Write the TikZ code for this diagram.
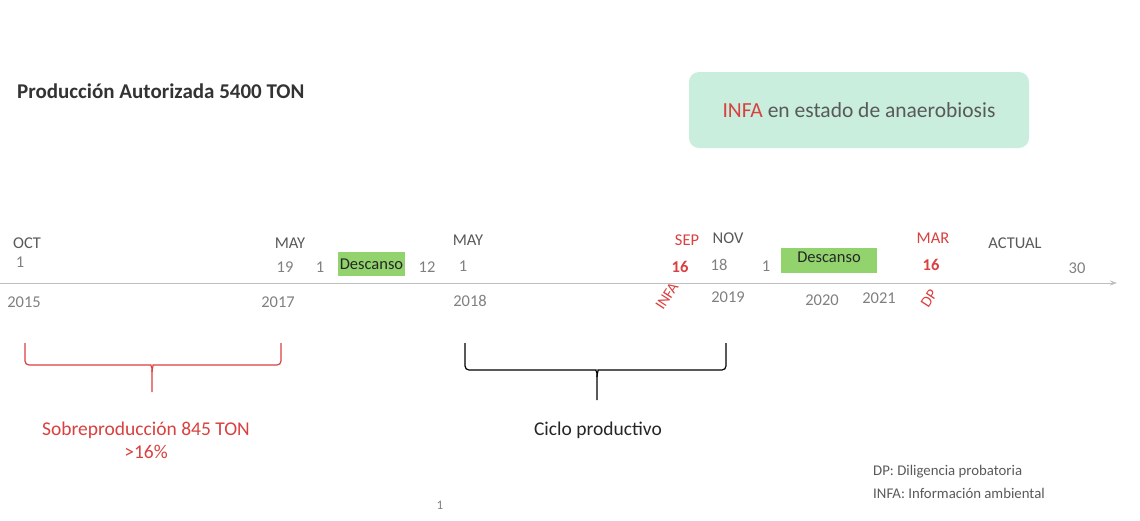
\documentclass[tikz,border=0pt]{standalone}
\usepackage{fontspec}
\setmainfont{Carlito}
\usetikzlibrary{arrows.meta}
\definecolor{redtx}{HTML}{D9403F}
\definecolor{graytx}{HTML}{808080}
\definecolor{darktx}{HTML}{595959}
\definecolor{mint}{HTML}{C9EEDD}
\definecolor{restg}{HTML}{92D36E}
\definecolor{axisc}{HTML}{BFBFBF}
\tikzset{
  lbl/.style={inner sep=0pt, font=\fontsize{16.5}{18}\selectfont, text=graytx},
  mon/.style={lbl, text=darktx},
  redm/.style={lbl, text=redtx},
  redd/.style={lbl, text=redtx, font=\fontsize{16.5}{18}\selectfont\bfseries},
  restbox/.style={fill=restg, inner sep=0pt, font=\fontsize{16.5}{18}\selectfont, text=black!85},
  bracel/.style={line width=1.2pt, rounded corners=4pt},
}
\begin{document}
\begin{tikzpicture}[x=1pt,y=-1pt]
\useasboundingbox (0,0) rectangle (1140,520);
% title
\node[anchor=west, inner sep=0pt, font=\fontsize{21}{24}\selectfont\bfseries, text=black!80] (title) at (17,91) {Producción Autorizada 5400 TON};
% green note
\node[fill=mint, rounded corners=10pt, minimum width=340pt, minimum height=76pt, font=\fontsize{21.5}{24}\selectfont, text=darktx] (note) at (859,110) {\textcolor{redtx}{INFA} en estado de anaerobiosis};
% axis
\coordinate (axs) at (0,283);
\coordinate (axe) at (1117,283);
\draw[axisc, line width=1pt, -{Stealth[length=7pt,width=5pt]}] (axs) -- (axe);
% left group
\node[mon] (oct) at (27,243) {OCT};
\node[lbl] (d1) at (20,262) {1};
\node[lbl] (y2015) at (24,302) {2015};
\node[mon] (may1) at (290,243) {MAY};
\node[lbl] (d19) at (285,267) {19};
\node[lbl] (d1b) at (320,267) {1};
\node[restbox, minimum width=67pt, minimum height=24pt] (rest1) at (371.5,264) {Descanso};
\node[lbl] (d12) at (427,267) {12};
\node[lbl] (d1c) at (463,266) {1};
\node[mon] (may2) at (468,240) {MAY};
\node[lbl] (y2017) at (278,302) {2017};
\node[lbl] (y2018) at (470,301) {2018};
% right group
\node[redm] (sep) at (687,240) {SEP};
\node[redd] (d16a) at (680,267) {16};
\node[mon] (nov) at (728,238) {NOV};
\node[lbl] (d18) at (719,265) {18};
\node[lbl] (d1d) at (766,266) {1};
\node[restbox, minimum width=96pt, minimum height=25pt, text depth=0pt] (rest2) at (829,260.5) {\raisebox{6pt}{Descanso}};
\node[redm] (mar) at (933,238) {MAR};
\node[redd] (d16b) at (931,265) {16};
\node[mon] (actual) at (1015,243) {ACTUAL};
\node[lbl] (d30) at (1077,268) {30};
\node[redm, rotate=57, font=\fontsize{15.5}{17}\selectfont] (infa) at (667,296) {INFA};
\node[redm, rotate=57, font=\fontsize{15.5}{17}\selectfont] (dp) at (929,298) {DP};
\node[lbl] (y2019) at (728,297) {2019};
\node[lbl] (y2020) at (822,300) {2020};
\node[lbl] (y2021) at (879,298) {2021};
% red brace
\coordinate (rb1) at (25,343);
\coordinate (rb2) at (281,343);
\coordinate (rbt) at (152,392);
\draw[redtx, bracel] (rb1) -- (25,365) -- (147,365) .. controls (150,365) and (152,367) .. (152,372) -- (rbt);
\draw[redtx, bracel] (rb2) -- (281,365) -- (157,365) .. controls (154,365) and (152,367) .. (152,372);
% black brace
\coordinate (bb1) at (465,343);
\coordinate (bb2) at (726,343);
\coordinate (bbt) at (597,400);
\draw[black, bracel] (bb1) -- (465,370) -- (592,370) .. controls (595,370) and (597,372) .. (597,377) -- (bbt);
\draw[black, bracel] (bb2) -- (726,370) -- (602,370) .. controls (599,370) and (597,372) .. (597,377);
% brace labels
\node[inner sep=0pt, font=\fontsize{19.5}{23}\selectfont, text=redtx, align=center] (sobre) at (146,440) {Sobreproducción 845 TON\\>16\%};
\node[inner sep=0pt, font=\fontsize{19.5}{23}\selectfont, text=black!85] (ciclo) at (598,430) {Ciclo productivo};
% page number
\node[lbl, font=\fontsize{13}{15}\selectfont] (page) at (440,505) {1};
% legend
\node[anchor=west, inner sep=0pt, font=\fontsize{14.8}{23}\selectfont, text=darktx, align=left] (legend) at (873,482) {DP: Diligencia probatoria\\INFA: Información ambiental};
\end{tikzpicture}
\end{document}
